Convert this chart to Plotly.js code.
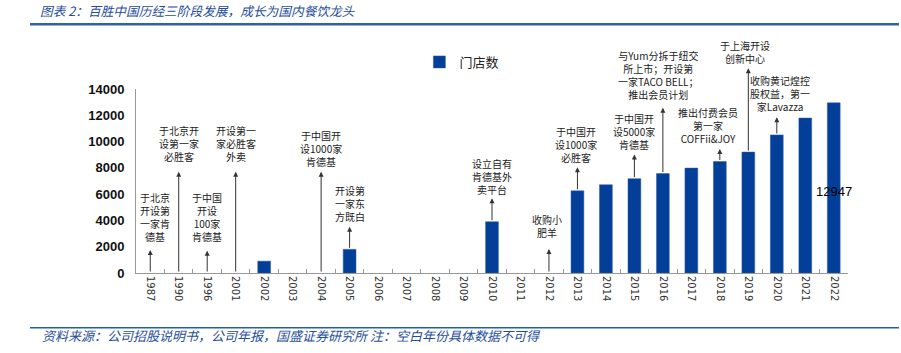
<!DOCTYPE html>
<html>
<head>
<meta charset="utf-8">
<script src="https://cdn.plot.ly/plotly-3.0.1.min.js"></script>
<style>html,body{margin:0;padding:0;background:#fff;}#chart{width:901px;height:353px;}</style>
</head>
<body>
<div id="chart"></div>
<script>
// ---- data ----
const categories = ['1987','1990','1996','2001','2002','2003','2004','2005','2006','2007','2008','2009','2010','2011','2012','2013','2014','2015','2016','2017','2018','2019','2020','2021','2022'];
const storeCounts = [null,null,null,null,900,null,null,1800,null,null,null,null,3900,null,null,6250,6715,7176,7562,7983,8484,9200,10506,11788,12947];
const seriesName = '门店数';
const yTicks = [0,2000,4000,6000,8000,10000,12000,14000];
const yMax = 14000;

// milestones
const noteYears = ['1987','1990','1996','2001','2004','2005','2010','2012','2013','2015','2016','2018','2019','2020'];
const noteTexts = [
  '于北京<br>开设第<br>一家肯<br>德基',
  '于北京开<br>设第一家<br>必胜客',
  '于中国<br>开设<br>100家<br>肯德基',
  '开设第一<br>家必胜客<br>外卖',
  '于中国开<br>设1000家<br>肯德基',
  '开设第<br>一家东<br>方既白',
  '设立自有<br>肯德基外<br>卖平台',
  '收购小<br>肥羊',
  '于中国开<br>设1000家<br>必胜客',
  '于中国开<br>设5000家<br>肯德基',
  '与Yum分拆于纽交<br>所上市；开设第<br>一家TACO BELL；<br>推出会员计划',
  '推出付费会员<br>第一家<br>COFFii&JOY',
  '于上海开设<br>创新中心',
  '收购黄记煌控<br>股权益，第一<br>家Lavazza'
];
const noteTipY  = [1750,7710,1700,7710,7710,3520,5680,1830,8040,9020,12580,9440,15580,11850];
const noteTextY = [4260,9870,4260,9870,9510,5300,7350,3590,9780,10790,15090,11260,16840,13620];
const noteShift = [5,0,0,0,0,0,0,-2,-1,0,-4,-12,-3,3];

const title = '图表 2：百胜中国历经三阶段发展，成长为国内餐饮龙头';
const source = '资料来源：公司招股说明书，公司年报，国盛证券研究所 注：空白年份具体数据不可得';

// ---- build ----
const cjk = '"Noto Sans CJK SC", "Noto Sans", sans-serif';
const blue = '#1F4E9A';
const annotations = [];
noteYears.forEach((yr, i) => {
  const idx = categories.indexOf(yr);
  const base = storeCounts[idx] == null ? 0 : storeCounts[idx];
  annotations.push({
    x: idx, y: noteTipY[i] / yMax, xref: 'x', yref: 'paper',
    ax: idx, ay: base / yMax, axref: 'x', ayref: 'paper',
    text: '', showarrow: true, arrowhead: 2, arrowsize: 1, arrowwidth: 1,
    arrowcolor: '#333', standoff: 0, startstandoff: 0
  });
  annotations.push({
    x: idx, y: noteTextY[i] / yMax, xref: 'x', yref: 'paper', xshift: noteShift[i],
    text: noteTexts[i], showarrow: false, xanchor: 'center', yanchor: 'middle',
    align: 'center', font: {family: cjk, size: 10, color: '#222'}
  });
});
// data label on the last bar
const lastIdx = categories.length - 1;
annotations.push({
  x: lastIdx, y: 6190, xref: 'x', yref: 'y',
  text: String(storeCounts[lastIdx]), showarrow: false,
  font: {family: 'Liberation Sans, Arial, sans-serif', size: 13, color: '#000'}
});
// source note
annotations.push({
  x: -0.1348, y: -0.342, xref: 'paper', yref: 'paper', xanchor: 'left', yanchor: 'middle',
  text: source, showarrow: false,
  font: {family: cjk, size: 13, color: blue, style: 'italic'}
});

const trace = {
  type: 'bar', x: categories, y: storeCounts, name: seriesName,
  marker: {color: '#033F98', line: {color: '#2A5BB0', width: 0.5}},
  hoverinfo: 'x+y'
};

const layout = {
  width: 901, height: 353,
  margin: {l: 136, r: 53, t: 89, b: 80},
  paper_bgcolor: '#fff', plot_bgcolor: '#fff',
  title: {
    text: title, xref: 'container', yref: 'container', x: 40/901, xanchor: 'left',
    y: 1 - 11.7/353, yanchor: 'middle',
    font: {family: cjk, size: 12.7, color: blue, style: 'italic'}
  },
  bargap: 0.55,
  showlegend: true,
  legend: {
    x: 0.398, y: 1.147, xanchor: 'left', yanchor: 'middle', orientation: 'h',
    itemwidth: 30,
    font: {family: cjk, size: 13, color: '#222'}, bgcolor: 'rgba(0,0,0,0)'
  },
  xaxis: {
    type: 'category', categoryorder: 'array', categoryarray: categories,
    range: [-0.5, categories.length - 0.5], autorange: false,
    showline: true, linecolor: '#999', linewidth: 1,
    ticks: 'inside', ticklen: 4, tickcolor: '#999', tickson: 'boundaries',
    tickangle: 90, tickfont: {family: 'DejaVu Sans, sans-serif', size: 10, color: '#333'},
    showgrid: false, zeroline: false, automargin: false, fixedrange: true
  },
  yaxis: {
    range: [0, yMax], autorange: false, tickvals: yTicks, ticktext: yTicks.map(String),
    showline: true, linecolor: '#999', linewidth: 1, ticks: '',
    ticklabelstandoff: 8,
    tickfont: {family: 'Liberation Sans, Arial, sans-serif', size: 13, color: '#111', weight: 'bold'},
    showgrid: false, zeroline: false, automargin: false, fixedrange: true
  },
  shapes: [
    {type: 'line', xref: 'paper', yref: 'paper', x0: -0.1489, x1: 1.0716, y0: 1.3516, y1: 1.3516,
     line: {color: '#2E62AC', width: 2.5}},
    {type: 'line', xref: 'paper', yref: 'paper', x0: -0.1489, x1: 1.0716, y0: -0.2973, y1: -0.2973,
     line: {color: '#1F5FB4', width: 1.5}}
  ],
  annotations: annotations
};

Plotly.newPlot('chart', [trace], layout, {displayModeBar: false, staticPlot: true});
</script>
</body>
</html>
